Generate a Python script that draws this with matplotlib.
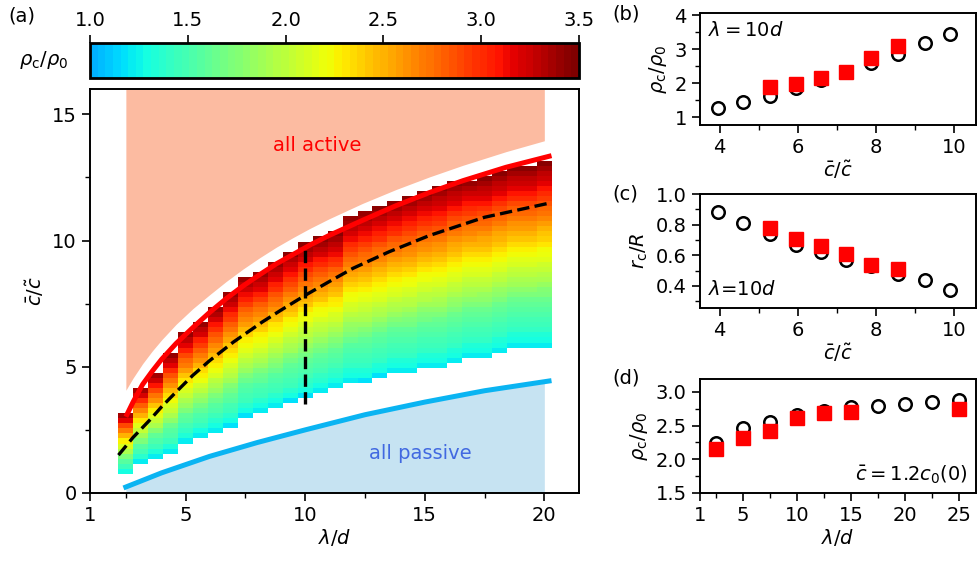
import numpy as np
import matplotlib
matplotlib.use('Agg')
import matplotlib.pyplot as plt
from matplotlib.colors import ListedColormap
from matplotlib.ticker import MultipleLocator

plt.rcParams['font.size'] = 14
plt.rcParams['axes.linewidth'] = 1.4
plt.rcParams['xtick.major.width'] = 1.2
plt.rcParams['ytick.major.width'] = 1.2
plt.rcParams['xtick.minor.width'] = 1.0
plt.rcParams['ytick.minor.width'] = 1.0
plt.rcParams['xtick.major.size'] = 6
plt.rcParams['ytick.major.size'] = 6
plt.rcParams['xtick.minor.size'] = 3.5
plt.rcParams['ytick.minor.size'] = 3.5

# ---- panel (a): heat map columns (lambda/d), bottom / top edge in cbar/ctilde
col_lam = np.arange(2.5, 20.01, 0.625)
col_bottom = [0.75, 1.20, 1.40, 1.59, 1.99, 2.19, 2.38, 2.58, 2.98, 3.17,
              3.37, 3.57, 3.77, 3.96, 4.16, 4.36, 4.36, 4.56, 4.75, 4.75,
              4.95, 4.95, 5.15, 5.35, 5.35, 5.55, 5.74, 5.74, 5.74]
col_top = [3.15, 4.16, 4.76, 5.55, 6.35, 6.76, 7.35, 7.94, 8.55, 8.75,
           9.14, 9.53, 9.92, 10.13, 10.30, 10.95, 11.15, 11.34, 11.54, 11.74,
           11.94, 12.10, 12.33, 12.45, 12.53, 12.73, 12.92, 12.92, 13.12]
# rho_c/rho_0 against relative height inside a column
prof_frac = [0, 0.04, 0.13, 0.25, 0.35, 0.46, 0.56, 0.67, 0.78, 0.89, 1.0]
prof_rho = [1.15, 1.27, 1.46, 1.61, 1.86, 2.1, 2.3, 2.6, 2.86, 3.19, 3.45]

# boundary curves
red_lam = [2.5, 2.8, 3.2, 3.6, 4.0, 4.6, 5.3, 6.0, 6.7, 7.4, 8.1, 8.8, 9.5,
           10.2, 11.0, 12.4, 13.8, 15.2, 16.6, 18.4, 20.3]
red_c = [3.02, 3.6, 4.3, 4.82, 5.3, 5.92, 6.55, 7.15, 7.7, 8.2, 8.65, 9.08,
         9.45, 9.82, 10.2, 10.8, 11.38, 11.9, 12.37, 12.9, 13.36]
dash_lam = [2.19, 2.8, 3.5, 4.0, 4.6, 5.3, 6.0, 7.0, 8.2, 9.0, 10.0, 11.0,
            12.0, 13.5, 15.2, 17.5, 20.3]
dash_c = [1.5, 2.2, 2.89, 3.42, 4.0, 4.66, 5.24, 5.98, 6.77, 7.25, 7.83,
          8.37, 8.9, 9.55, 10.2, 10.92, 11.5]
vline_c = [3.52, 9.8]
blue_lam = [2.4, 4.0, 6.0, 8.0, 10.0, 12.5, 15.0, 17.5, 20.3]
blue_c = [0.2, 0.8, 1.45, 2.0, 2.5, 3.1, 3.6, 4.05, 4.45]
active_lam = [2.5, 2.8, 3.2, 3.6, 4.0, 4.6, 5.3, 6.0, 6.7, 7.4, 8.1, 8.8,
              9.5, 10.2, 11.0, 12.4, 13.8, 15.2, 16.6, 18.4, 20.0]
active_low = [4.07, 4.55, 5.12, 5.62, 6.07, 6.68, 7.3, 7.85, 8.38, 8.87,
              9.32, 9.74, 10.12, 10.48, 10.86, 11.47, 12.02, 12.52, 12.98,
              13.52, 13.95]
passive_lam = [2.5, 4.0, 6.0, 8.0, 10.0, 12.5, 15.0, 17.5, 20.0]
passive_top = [0.25, 0.75, 1.4, 1.95, 2.45, 3.05, 3.55, 4.0, 4.35]

# ---- panels (b), (c): lambda = 10d
cb_x = [3.95, 4.59, 5.28, 5.95, 6.59, 7.23, 7.87, 8.55, 9.24, 9.88]
rho_circ = [1.27, 1.46, 1.63, 1.86, 2.08, 2.32, 2.6, 2.86, 3.19, 3.43]
rc_circ = [0.885, 0.813, 0.737, 0.668, 0.624, 0.57, 0.53, 0.477, 0.435, 0.37]
sq_x = [5.28, 5.95, 6.59, 7.23, 7.87, 8.55]
rho_sq = [1.89, 1.96, 2.15, 2.33, 2.75, 3.09]
rc_sq = [0.776, 0.705, 0.661, 0.609, 0.537, 0.51]

# ---- panel (d): cbar = 1.2 c0(0)
d_lam = [2.5, 5, 7.5, 10, 12.5, 15, 17.5, 20, 22.5, 25]
d_circ = [2.24, 2.46, 2.55, 2.65, 2.71, 2.78, 2.79, 2.82, 2.85, 2.88]
d_sq_lam = [2.5, 5, 7.5, 10, 12.5, 15, 25]
d_sq = [2.15, 2.32, 2.42, 2.61, 2.69, 2.70, 2.75]

jet = plt.get_cmap('jet')
cmap = ListedColormap(jet(np.linspace(0.3, 1.0, 64)))

fig = plt.figure(figsize=(9.79, 5.63), dpi=100)
W, H = 979., 563.

def box(l, t, r, b):
    return [l / W, 1 - b / H, (r - l) / W, (b - t) / H]

ax = fig.add_axes(box(90, 89, 579, 493))

ax.fill_between(active_lam, active_low, 16, color='#fcbba1', lw=0, zorder=1)
ax.fill_between(passive_lam, 0, passive_top, color='#c6e3f2', lw=0, zorder=1)

yedges = 0.76 + 0.2 * np.arange(64)
yc = 0.5 * (yedges[1:] + yedges[:-1])
xedges = np.append(col_lam - 0.3125, col_lam[-1] + 0.3125)
Z = np.full((len(yc), len(col_lam)), np.nan)
for j, (lo, hi) in enumerate(zip(col_bottom, col_top)):
    inside = (yc >= lo) & (yc <= hi)
    f = (yc[inside] - lo) / (hi - lo)
    Z[inside, j] = np.interp(f, prof_frac, prof_rho)
mesh = ax.pcolormesh(xedges, yedges, np.ma.masked_invalid(Z), cmap=cmap,
                     vmin=1.0, vmax=3.5, zorder=2)

ax.plot(red_lam, red_c, color='#ff0000', lw=3.6, zorder=4,
        solid_capstyle='butt')
ax.plot(blue_lam, blue_c, color='#0ab4f2', lw=3.6, zorder=4,
        solid_capstyle='butt')
ax.plot(dash_lam, dash_c, 'k--', lw=2.4, zorder=5)
ax.plot([10, 10], vline_c, 'k--', lw=2.4, zorder=5)

ax.text(10.5, 13.75, 'all active', color='#ff0000', ha='center', va='center')
ax.text(14.8, 1.58, 'all passive', color='#4169e1', ha='center', va='center')

ax.set_xlim(1, 21.45)
ax.set_ylim(0, 16)
ax.set_xticks([1, 5, 10, 15, 20])
ax.xaxis.set_minor_locator(MultipleLocator(5, offset=2.5))
ax.set_yticks([0, 5, 10, 15])
ax.yaxis.set_minor_locator(MultipleLocator(2.5))
ax.set_xlabel(r'$\lambda/d$', labelpad=1)
ax.set_ylabel(r'$\bar{c}/\tilde{c}$')

cax = fig.add_axes(box(90, 43, 579, 78))
cb = fig.colorbar(mesh, cax=cax, orientation='horizontal')
cax.xaxis.set_ticks_position('top')
cb.set_ticks([1.0, 1.5, 2.0, 2.5, 3.0, 3.5])
cb.outline.set_linewidth(2)
fig.text(44 / W, 1 - 60 / H, r'$\rho_\mathrm{c}/\rho_0$', ha='center', va='center')

msz = 9
circ = dict(ls='none', marker='o', mfc='none', mec='k', mew=1.8, ms=msz, zorder=3)
sq = dict(ls='none', marker='s', color='#ff0000', ms=msz + 1, zorder=4)

axb = fig.add_axes(box(700, 13, 976, 125))
axb.plot(cb_x, rho_circ, **circ)
axb.plot(sq_x, rho_sq, **sq)
axb.set_xlim(3.5, 10.55)
axb.set_ylim(0.77, 4.06)
axb.set_xticks([4, 6, 8, 10])
axb.xaxis.set_minor_locator(MultipleLocator(1))
axb.set_yticks([1, 2, 3, 4])
axb.yaxis.set_minor_locator(MultipleLocator(0.5))
axb.set_xlabel(r'$\bar{c}/\tilde{c}$', labelpad=1)
axb.set_ylabel(r'$\rho_\mathrm{c}/\rho_0$')
axb.text(0.03, 0.84, r'$\lambda = 10d$', transform=axb.transAxes, va='center')

axc = fig.add_axes(box(700, 194, 976, 308))
axc.plot(cb_x, rc_circ, **circ)
axc.plot(sq_x, rc_sq, **sq)
axc.set_xlim(3.5, 10.55)
axc.set_ylim(0.255, 1.0)
axc.set_xticks([4, 6, 8, 10])
axc.xaxis.set_minor_locator(MultipleLocator(1))
axc.set_yticks([0.4, 0.6, 0.8, 1.0])
axc.yaxis.set_minor_locator(MultipleLocator(0.1))
axc.set_xlabel(r'$\bar{c}/\tilde{c}$', labelpad=1)
axc.set_ylabel(r'$r_\mathrm{c}/R$')
axc.text(0.03, 0.16, r'$\lambda$=10$d$', transform=axc.transAxes, va='center')

axd = fig.add_axes(box(700, 379, 976, 493))
axd.plot(d_lam, d_circ, **circ)
axd.plot(d_sq_lam, d_sq, **sq)
axd.set_xlim(1, 26.6)
axd.set_ylim(1.5, 3.19)
axd.set_xticks([1, 5, 10, 15, 20, 25])
axd.xaxis.set_minor_locator(MultipleLocator(5, offset=2.5))
axd.set_yticks([1.5, 2.0, 2.5, 3.0])
axd.yaxis.set_minor_locator(MultipleLocator(0.25))
axd.set_xlabel(r'$\lambda/d$', labelpad=1)
axd.set_ylabel(r'$\rho_\mathrm{c}/\rho_0$')
axd.text(0.97, 0.16, r'$\bar{c} = 1.2c_0(0)$', transform=axd.transAxes,
         va='center', ha='right')

fig.text(8 / W, 1 - 6 / H, '(a)', ha='left', va='top')
fig.text(612 / W, 1 - 4 / H, '(b)', ha='left', va='top')
fig.text(612 / W, 1 - 184 / H, '(c)', ha='left', va='top')
fig.text(612 / W, 1 - 368 / H, '(d)', ha='left', va='top')

fig.savefig('out.png', dpi=100)
